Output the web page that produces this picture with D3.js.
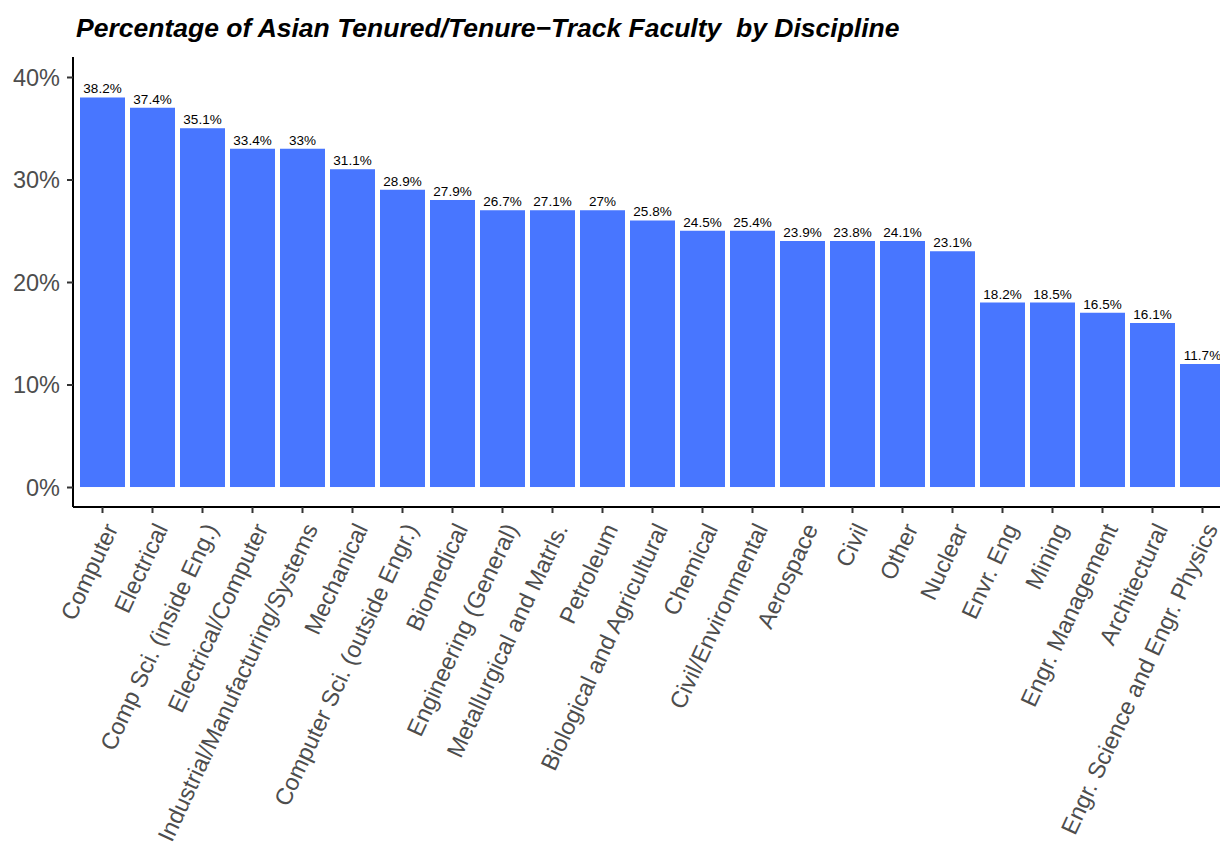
<!DOCTYPE html>
<html>
<head>
<meta charset="utf-8">
<script src="https://cdn.jsdelivr.net/npm/d3@7"></script>
<style>
  body { margin: 0; background: #fff; }
  svg { font-family: "Liberation Sans", Arial, sans-serif; }
</style>
</head>
<body>
<script>
/* ------------------------------- chart data ------------------------------- */
const disciplines = ["Computer", "Electrical", "Comp Sci. (inside Eng.)", "Electrical/Computer",
  "Industrial/Manufacturing/Systems", "Mechanical", "Computer Sci. (outside Engr.)", "Biomedical",
  "Engineering (General)", "Metallurgical and Matrls.", "Petroleum", "Biological and Agricultural",
  "Chemical", "Civil/Environmental", "Aerospace", "Civil", "Other", "Nuclear", "Envr. Eng",
  "Mining", "Engr. Management", "Architectural", "Engr. Science and Engr. Physics"];
// label values printed above the bars
const pctLabels = [38.2, 37.4, 35.1, 33.4, 33, 31.1, 28.9, 27.9, 26.7, 27.1, 27, 25.8,
  24.5, 25.4, 23.9, 23.8, 24.1, 23.1, 18.2, 18.5, 16.5, 16.1, 11.7];
// bar heights (drawn rounded in the original)
const barValues = [38, 37, 35, 33, 33, 31, 29, 28, 27, 27, 27, 26,
  25, 25, 24, 24, 24, 23, 18, 18, 17, 16, 12];
const yTicks = [0, 10, 20, 30, 40];

/* ------------------------------ document size ----------------------------- */
const width = 1220, height = 845;
const mLeft = 73, mTop = 57, mBottom = 507;
const step = 50;

const svg = d3.select("body").append("svg")
    .attr("width", width)
    .attr("height", height);

/* --------------------------------- scales --------------------------------- */
const x = d3.scaleBand()
    .domain(disciplines)
    .range([mLeft + 4.5, mLeft + 4.5 + disciplines.length * step])
    .paddingInner(0.1)
    .paddingOuter(0.05);

const y = d3.scaleLinear()
    .domain([-1.95, 41.95])
    .range([mBottom, mTop]);

/* ---------------------------------- bars ---------------------------------- */
svg.append("g").selectAll("rect")
    .data(disciplines)
    .enter().append("rect")
    .attr("x", d => x(d))
    .attr("width", x.bandwidth())
    .attr("y", (d, i) => y(barValues[i]))
    .attr("height", (d, i) => y(0) - y(barValues[i]))
    .attr("fill", "#4876FF");

svg.append("g").selectAll("text")
    .data(disciplines)
    .enter().append("text")
    .attr("x", d => x(d) + x.bandwidth() / 2)
    .attr("y", (d, i) => y(barValues[i]) - 4)
    .attr("text-anchor", "middle")
    .attr("font-size", 13.5)
    .attr("fill", "#000")
    .text((d, i) => pctLabels[i] + "%");

/* ---------------------------------- axes ---------------------------------- */
const yAxis = svg.append("g")
    .attr("transform", "translate(" + mLeft + ",0)")
    .call(d3.axisLeft(y).tickValues(yTicks).tickSize(6).tickPadding(7).tickFormat(d => d + "%"));

const xAxis = svg.append("g")
    .attr("transform", "translate(0," + mBottom + ")")
    .call(d3.axisBottom(x).tickSize(6).tickPadding(4));

[yAxis, xAxis].forEach(a => {
  a.select(".domain").attr("stroke", "#000").attr("stroke-width", 2);
  a.selectAll(".tick line").attr("stroke", "#333").attr("stroke-width", 2);
  a.selectAll(".tick text").attr("fill", "#4d4d4d").attr("font-size", 23.5)
    .attr("font-family", "Liberation Sans, Arial, sans-serif");
});
yAxis.select(".domain").attr("d", "M0," + mTop + "V" + mBottom);
xAxis.select(".domain").attr("d", "M" + mLeft + ",0H" + width);
yAxis.selectAll(".tick text").attr("dy", "0.36em");

xAxis.selectAll(".tick text")
    .attr("text-anchor", "end")
    .attr("transform", "translate(0,14) rotate(-65)")
    .attr("x", 0)
    .attr("y", 0)
    .attr("dy", "0.75em");

/* ---------------------------------- title --------------------------------- */
svg.append("text")
    .attr("x", 76)
    .attr("y", 37)
    .attr("font-size", 26.5)
    .attr("font-weight", "bold")
    .attr("font-style", "italic")
    .attr("fill", "#000")
    .style("white-space", "pre")
    .text("Percentage of Asian Tenured/Tenure\u2212Track Faculty  by Discipline");
</script>
</body>
</html>
